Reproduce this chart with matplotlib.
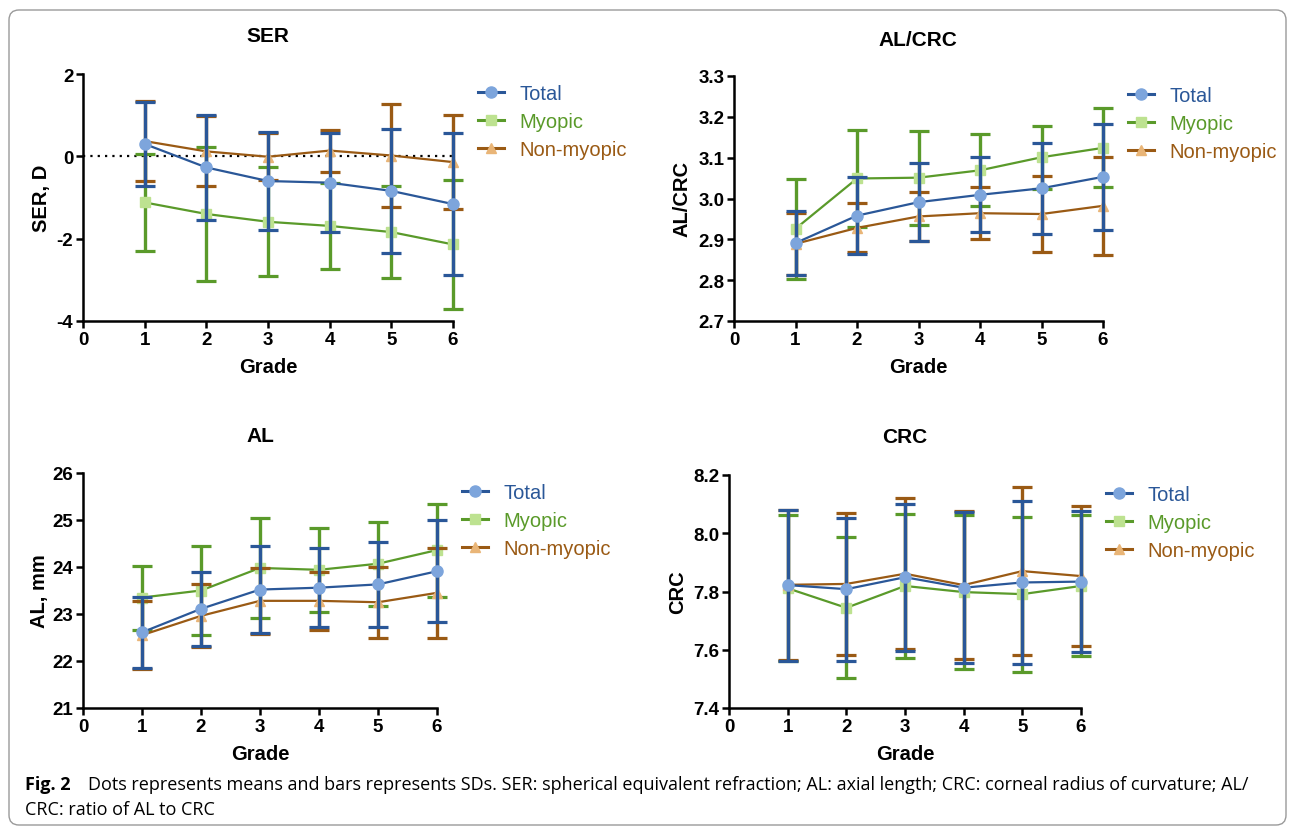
import matplotlib
matplotlib.use("Agg")
import matplotlib.pyplot as plt
import matplotlib.font_manager as fm
from matplotlib.lines import Line2D
from matplotlib.patches import FancyBboxPatch
from matplotlib.transforms import IdentityTransform


def _pick_font(candidates):
    available = {f.name for f in fm.fontManager.ttflist}
    for name in candidates:
        if name in available:
            return name
    return "DejaVu Sans"


SANS = _pick_font(["Liberation Sans", "Arial", "DejaVu Sans"])
CAPTION_FONT = _pick_font(["Open Sans", "Noto Sans", "Liberation Sans"])

# --------------------------------------------------
# Data (means and SDs per grade)
# --------------------------------------------------
grades = [1, 2, 3, 4, 5, 6]
groups = ["Total", "Myopic", "Non-myopic"]

ser_total_mean = [0.30, -0.27, -0.60, -0.64, -0.84, -1.16]
ser_total_sd = [1.03, 1.27, 1.18, 1.21, 1.50, 1.72]
ser_myopic_mean = [-1.12, -1.40, -1.59, -1.69, -1.84, -2.14]
ser_myopic_sd = [1.18, 1.62, 1.32, 1.05, 1.12, 1.57]
ser_nonmyopic_mean = [0.37, 0.12, -0.01, 0.14, 0.02, -0.14]
ser_nonmyopic_sd = [0.97, 0.85, 0.57, 0.51, 1.24, 1.15]

alcrc_total_mean = [2.891, 2.958, 2.991, 3.009, 3.025, 3.053]
alcrc_total_sd = [0.078, 0.095, 0.095, 0.092, 0.111, 0.130]
alcrc_myopic_mean = [2.926, 3.049, 3.051, 3.069, 3.101, 3.124]
alcrc_myopic_sd = [0.122, 0.118, 0.115, 0.088, 0.077, 0.097]
alcrc_nonmyopic_mean = [2.889, 2.928, 2.956, 2.964, 2.962, 2.982]
alcrc_nonmyopic_sd = [0.076, 0.060, 0.060, 0.063, 0.094, 0.120]

al_total_mean = [22.61, 23.11, 23.52, 23.56, 23.63, 23.91]
al_total_sd = [0.76, 0.79, 0.92, 0.84, 0.91, 1.08]
al_myopic_mean = [23.35, 23.50, 23.98, 23.94, 24.07, 24.36]
al_myopic_sd = [0.68, 0.95, 1.06, 0.90, 0.89, 0.99]
al_nonmyopic_mean = [22.55, 22.96, 23.28, 23.28, 23.25, 23.45]
al_nonmyopic_sd = [0.73, 0.67, 0.70, 0.62, 0.75, 0.95]

crc_total_mean = [7.822, 7.808, 7.849, 7.813, 7.831, 7.834]
crc_total_sd = [0.259, 0.245, 0.253, 0.259, 0.280, 0.241]
crc_myopic_mean = [7.811, 7.744, 7.819, 7.798, 7.791, 7.819]
crc_myopic_sd = [0.250, 0.242, 0.247, 0.265, 0.266, 0.242]
crc_nonmyopic_mean = [7.823, 7.826, 7.861, 7.822, 7.870, 7.853]
crc_nonmyopic_sd = [0.258, 0.244, 0.259, 0.253, 0.289, 0.240]

# --------------------------------------------------
# Styles
# --------------------------------------------------
LINE_COLORS = {"Total": "#2a5798", "Myopic": "#5a9a2a", "Non-myopic": "#9a5a14"}
FACE_COLORS = {"Total": "#7da5dc", "Myopic": "#bde290", "Non-myopic": "#e9b577"}
MARKERS = {"Total": ("o", 8.0), "Myopic": ("s", 6.8), "Non-myopic": ("^", 6.5)}
ZORDER = {"Myopic": 3, "Non-myopic": 4, "Total": 5}

W, H = 1295, 829
fig = plt.figure(figsize=(W / 100, H / 100), dpi=100)
fig.patch.set_facecolor("white")


def px_axes(left, top, right, bottom):
    ax = fig.add_axes([left / W, 1 - bottom / H, (right - left) / W, (bottom - top) / H])
    ax._px = (right - left, bottom - top)
    return ax


def panel(ax, means, sds, ylim, yticks, yfmt, ylabel, ylab_off):
    wpx, hpx = ax._px
    for g in ["Myopic", "Non-myopic", "Total"]:
        mk, ms = MARKERS[g]
        eb = ax.errorbar(grades, means[g], yerr=sds[g], color=LINE_COLORS[g],
                         ecolor=LINE_COLORS[g], elinewidth=2.4, capsize=7, capthick=2.3,
                         lw=1.6, marker=mk, ms=ms, mfc=FACE_COLORS[g], mec=FACE_COLORS[g],
                         zorder=ZORDER[g])
        eb.lines[0].set_clip_on(False)
        for art in eb.lines[1]:
            art.set_clip_on(False)
        for art in eb.lines[2]:
            art.set_clip_on(False)
    ax.set_xlim(0, 6)
    ax.set_ylim(*ylim)
    ax.set_xticks(range(0, 7))
    ax.set_yticks(yticks)
    ax.set_yticklabels([yfmt.format(v) for v in yticks])
    for side in ("top", "right"):
        ax.spines[side].set_visible(False)
    for side in ("left", "bottom"):
        ax.spines[side].set_linewidth(1.8)
    ax.tick_params(axis="both", direction="out", length=5, width=1.8, pad=2, labelsize=13.5)
    for lab in ax.get_xticklabels() + ax.get_yticklabels():
        lab.set_fontweight("bold")
        lab.set_family(SANS)
    ax.set_xlabel("Grade", fontsize=14.5, fontweight="bold", family=SANS, va="center")
    ax.xaxis.set_label_coords(0.5, -46 / hpx)
    ax.set_ylabel(ylabel, fontsize=14.5, fontweight="bold", family=SANS, va="center")
    ax.yaxis.set_label_coords(-ylab_off / wpx, 0.5)

    handles = [Line2D([], [], color=LINE_COLORS[g], lw=2.2, marker=MARKERS[g][0],
                      ms=MARKERS[g][1], mfc=FACE_COLORS[g], mec=FACE_COLORS[g])
               for g in groups]
    ax.legend(handles, groups, loc="upper left", bbox_to_anchor=(1 + 15 / wpx, 1.0),
              frameon=False, borderpad=0, handlelength=1.3, handletextpad=0.75,
              labelspacing=0.45, prop={"family": SANS, "size": 14.5},
              labelcolor="linecolor")
    return ax


ax1 = px_axes(83, 75, 453, 322)
panel(ax1,
      {"Total": ser_total_mean, "Myopic": ser_myopic_mean, "Non-myopic": ser_nonmyopic_mean},
      {"Total": ser_total_sd, "Myopic": ser_myopic_sd, "Non-myopic": ser_nonmyopic_sd},
      (-4, 2), [-4, -2, 0, 2], "{:.0f}", "SER, D", 41)
ax1.axhline(0, xmin=0, xmax=1, color="black", lw=1.6, ls=(0, (1, 2.3)), zorder=2)

ax2 = px_axes(734, 77, 1103, 322)
panel(ax2,
      {"Total": alcrc_total_mean, "Myopic": alcrc_myopic_mean, "Non-myopic": alcrc_nonmyopic_mean},
      {"Total": alcrc_total_sd, "Myopic": alcrc_myopic_sd, "Non-myopic": alcrc_nonmyopic_sd},
      (2.7, 3.3), [2.7, 2.8, 2.9, 3.0, 3.1, 3.2, 3.3], "{:.1f}", "AL/CRC", 52)

ax3 = px_axes(83, 474, 437, 709)
panel(ax3,
      {"Total": al_total_mean, "Myopic": al_myopic_mean, "Non-myopic": al_nonmyopic_mean},
      {"Total": al_total_sd, "Myopic": al_myopic_sd, "Non-myopic": al_nonmyopic_sd},
      (21, 26), [21, 22, 23, 24, 25, 26], "{:.0f}", "AL, mm", 44)

ax4 = px_axes(729, 476, 1081, 709)
panel(ax4,
      {"Total": crc_total_mean, "Myopic": crc_myopic_mean, "Non-myopic": crc_nonmyopic_mean},
      {"Total": crc_total_sd, "Myopic": crc_myopic_sd, "Non-myopic": crc_nonmyopic_sd},
      (7.4, 8.2), [7.4, 7.6, 7.8, 8.0, 8.2], "{:.1f}", "CRC", 51)

# Panel titles
for txt, x, y in [("SER", 268, 37), ("AL/CRC", 918, 40), ("AL", 260, 437), ("CRC", 905, 438)]:
    fig.text(x / W, 1 - y / H, txt, ha="center", va="center", fontsize=15,
             fontweight="bold", family=SANS)

# Caption
fig.text(25 / W, 1 - 785 / H, "Fig. 2", ha="left", va="center", fontsize=13,
         fontweight="bold", family=CAPTION_FONT)
fig.text(88 / W, 1 - 785 / H,
         "Dots represents means and bars represents SDs. SER: spherical equivalent refraction; "
         "AL: axial length; CRC: corneal radius of curvature; AL/",
         ha="left", va="center", fontsize=13, family=CAPTION_FONT)
fig.text(25 / W, 1 - 810 / H, "CRC: ratio of AL to CRC", ha="left", va="center",
         fontsize=13, family=CAPTION_FONT)

# Rounded frame around the whole figure (pixel coordinates)
frame = FancyBboxPatch((9, 3), W - 18, H - 14, boxstyle="round,pad=0,rounding_size=10",
                       transform=IdentityTransform(), fill=False, edgecolor="#9a9a9a",
                       lw=1.0)
fig.patches.append(frame)

fig.savefig("out.png", dpi=100)
